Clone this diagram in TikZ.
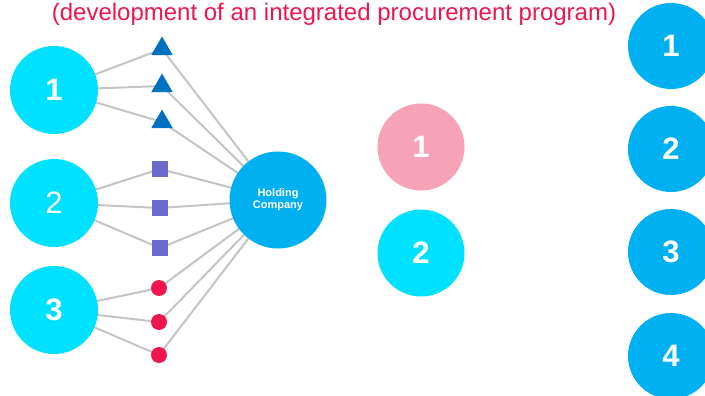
\documentclass[tikz,border=0pt]{standalone}
\usepackage{fontspec}
\setmainfont{Liberation Sans}
\usetikzlibrary{shapes.geometric,backgrounds}
\definecolor{cyanc}{HTML}{00E1FF}
\definecolor{bluec}{HTML}{00B0F0}
\definecolor{pinkc}{HTML}{F7A3B7}
\definecolor{tric}{HTML}{0070C0}
\definecolor{sqc}{HTML}{6B6BCC}
\definecolor{redc}{HTML}{EE164D}
\definecolor{linec}{HTML}{C4C4C4}
\tikzset{
  bigc/.style={circle, inner sep=0pt, minimum size=88pt, text=white, font=\fontsize{31}{31}\selectfont\bfseries},
  tri/.style={regular polygon, regular polygon sides=3, fill=tric, inner sep=0pt, minimum size=25pt},
  sq/.style={rectangle, fill=sqc, inner sep=0pt, minimum size=16pt},
  dot/.style={circle, fill=redc, inner sep=0pt, minimum size=16pt},
  conn/.style={draw=linec, line width=2pt}
}
\begin{document}
\begin{tikzpicture}[x=1pt,y=-1pt]
\useasboundingbox (0,0) rectangle (705,396);
% left circles
\node[bigc, fill=cyanc] (L1) at (54,90) {1};
\node[bigc, fill=cyanc, font=\fontsize{31}{31}\selectfont] (L2) at (54,203) {2};
\node[bigc, fill=cyanc] (L3) at (54,310) {3};
% shapes
\node[tri] (t1) at (162,49) {};
\node[tri] (t2) at (162,86) {};
\node[tri] (t3) at (162,122) {};
\node[sq] (s1) at (160,169) {};
\node[sq] (s2) at (160,208) {};
\node[sq] (s3) at (160,248) {};
\node[dot] (d1) at (159,288) {};
\node[dot] (d2) at (159,322) {};
\node[dot] (d3) at (159,355) {};
% holding
\node[circle, inner sep=0pt, minimum size=97pt, fill=bluec, text=white, align=center,
      font=\fontsize{11}{12}\selectfont\bfseries] (H) at (278,200) {Holding\\Company};
% connectors
\begin{scope}[on background layer]
  \foreach \s in {t1,t2,t3} {\draw[conn] (L1.center) -- (\s.center) -- (H.center);}
  \foreach \s in {s1,s2,s3} {\draw[conn] (L2.center) -- (\s.center) -- (H.center);}
  \foreach \s in {d1,d2,d3} {\draw[conn] (L3.center) -- (\s.center) -- (H.center);}
\end{scope}
% middle
\node[bigc, minimum size=87pt, fill=pinkc] (M1) at (421,147) {1};
\node[bigc, minimum size=87pt, fill=cyanc] (M2) at (421,253) {2};
% right
\node[bigc, minimum size=86pt, fill=bluec] (R1) at (671,46) {1};
\node[bigc, minimum size=86pt, fill=bluec] (R2) at (671,149) {2};
\node[bigc, minimum size=86pt, fill=bluec] (R3) at (671,252) {3};
\node[bigc, minimum size=86pt, fill=bluec] (R4) at (671,356) {4};
% title
\node[text=redc, font=\fontsize{24}{24}\selectfont, anchor=base, inner sep=0pt] (title) at (334,21) {(development of an integrated procurement program)};
\end{tikzpicture}
\end{document}
